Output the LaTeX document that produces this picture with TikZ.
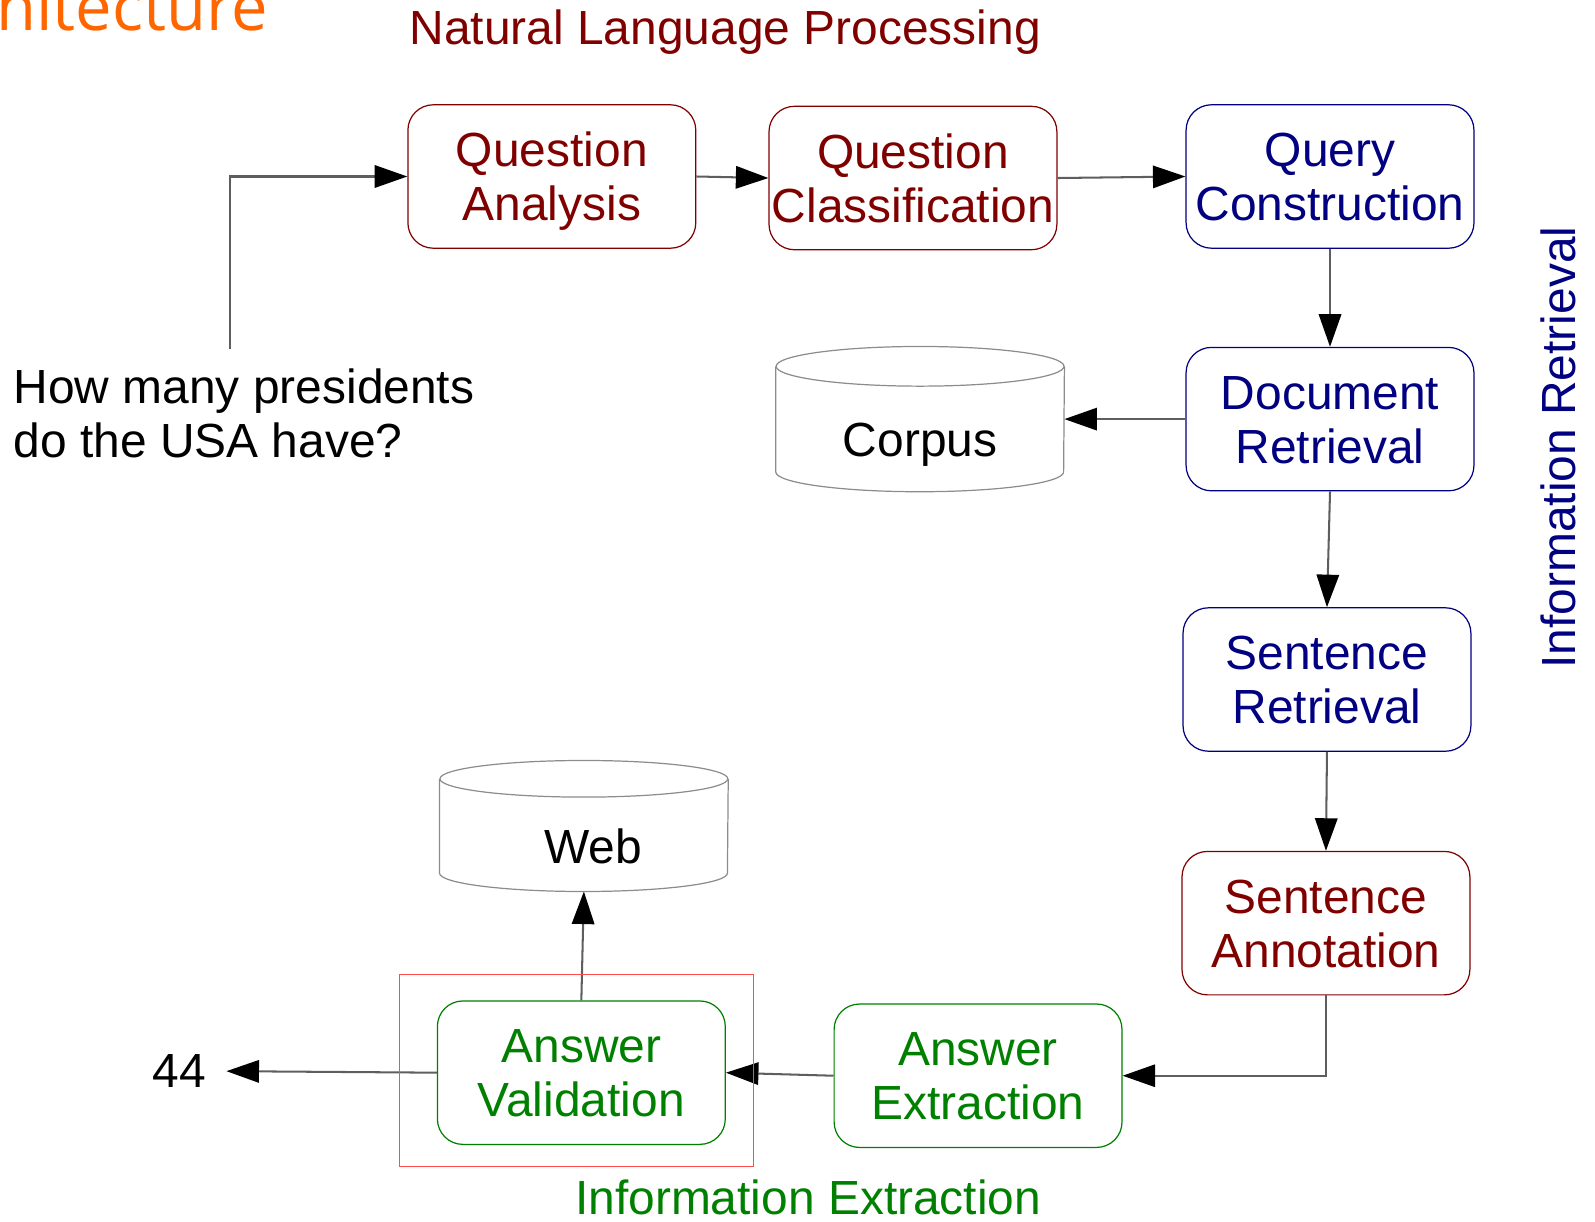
\documentclass[tikz,border=0pt]{standalone}
\usepackage{fontspec}
\setmainfont{Liberation Sans}
\newfontfamily\titlefont{Open Sans}
\usetikzlibrary{arrows.meta}
\definecolor{nlp}{HTML}{800000}
\definecolor{ir}{HTML}{000080}
\definecolor{ie}{HTML}{008000}
\definecolor{orangetitle}{HTML}{FF6600}
\definecolor{framered}{HTML}{FF4D4D}
\definecolor{conncol}{HTML}{5E5E5E}
\definecolor{cylgray}{HTML}{8C8C8C}
\newcommand{\twolines}[2]{\rule{0pt}{21.86pt}#1\\#2\rule[-5pt]{0pt}{5pt}}
\begin{document}
\begin{tikzpicture}[x=0.5pt,y=-0.5pt,
  every node/.style={font=\fontsize{23.55}{26.5}\selectfont},
  stage/.style={draw, rounded corners=12.5pt, minimum width=141.5pt, minimum height=70.5pt, inner sep=0pt, align=center, line width=0.6pt, fill=white},
  nlpbox/.style={stage, draw=nlp, text=nlp},
  irbox/.style={stage, draw=ir, text=ir},
  iebox/.style={stage, draw=ie, text=ie},
  db/.style={minimum width=141.5pt, inner sep=0pt, text height=36.86pt, text depth=0pt},
  cyl/.style={draw=cylgray, line width=0.6pt},
  conn/.style={draw=conncol, line width=1pt, -{Triangle[length=16pt,width=11pt,color=black]}},
]
\useasboundingbox (0,0) rectangle (1568,1201);
\clip (0,0) rectangle (1568,1201);

% titles
\node[anchor=base east, inner sep=0pt, text=orangetitle, font=\titlefont\fontsize{32}{38}\selectfont] (arch) at (264,29.5) {hitecture};
\node[anchor=base, inner sep=0pt, text=nlp] (nlptitle) at (713,44) {Natural Language Processing};
\node[anchor=base, inner sep=0pt, text=ie] (ietitle) at (794.5,1194) {Information Extraction};
\node[anchor=base, rotate=90, inner sep=0pt, text=ir] (irtitle) at (1549,440) {Information Retrieval};

% stages
\node[nlpbox] (qa) at (542.5,173.5) {\twolines{Question}{Analysis}};
\node[nlpbox] (qc) at (897.5,175) {\twolines{Question}{Classification}};
\node[irbox] (qcon) at (1307.5,173.5) {\twolines{Query}{Construction}};
\node[irbox] (dr) at (1307.5,412) {\twolines{Document}{Retrieval}};
\node[irbox] (sr) at (1304.5,668) {\twolines{Sentence}{Retrieval}};
\node[nlpbox] (sa) at (1303.5,907.5) {\twolines{Sentence}{Annotation}};
\node[iebox] (ae) at (961.5,1057.5) {\twolines{Answer}{Extraction}};
\node[iebox] (av) at (571.5,1054.5) {\twolines{Answer}{Validation}};

% databases
\node[db, minimum height=71pt] (corpus) at (904.5,412) {Corpus};
\draw[cyl] ([yshift=-9.75pt]corpus.north west) -- ([yshift=9.75pt]corpus.south west)
  arc[start angle=180, end angle=360, x radius=70.75pt, y radius=9.75pt]
  -- ([yshift=-9.75pt]corpus.north east);
\draw[cyl] ([yshift=-9.75pt]corpus.north) ellipse [x radius=70.75pt, y radius=9.75pt];

\node[db, minimum height=64pt] (web) at (574,812) {\hspace*{9pt}Web};
\draw[cyl] ([yshift=-9pt]web.north west) -- ([yshift=9pt]web.south west)
  arc[start angle=180, end angle=360, x radius=70.75pt, y radius=9pt]
  -- ([yshift=-9pt]web.north east);
\draw[cyl] ([yshift=-9pt]web.north) ellipse [x radius=70.75pt, y radius=9pt];

% question and answer
\node[anchor=west, align=left, inner xsep=0pt, inner ysep=4.75pt] (question) at (13,405.9)
  {\twolines{How many presidents}{do the USA have?}};
\node[inner xsep=10pt, inner ysep=0pt] (answer) at (176,1053) {44};
\coordinate (qturn) at (226,174);

% connectors
\draw[conn] (question.north -| qturn) |- (qa.west);
\draw[conn] (qa.east) -- (qc.west);
\draw[conn] (qc.east) -- (qcon.west);
\draw[conn] (qcon.south) -- (dr.north);
\draw[conn] (dr.west) -- (corpus.east);
\draw[conn] (dr.south) -- (sr.north);
\draw[conn] (sr.south) -- (sa.north);
\draw[conn] (sa.south) |- (ae.east);
\draw[conn] (ae.west) -- (av.east);
\draw[conn] (av.north) -- (web.south);
\draw[conn] (av.west) -- (answer.east);

% validation frame
\draw[draw=framered, line width=0.6pt] (393,958) rectangle (741,1147);
\end{tikzpicture}
\end{document}
